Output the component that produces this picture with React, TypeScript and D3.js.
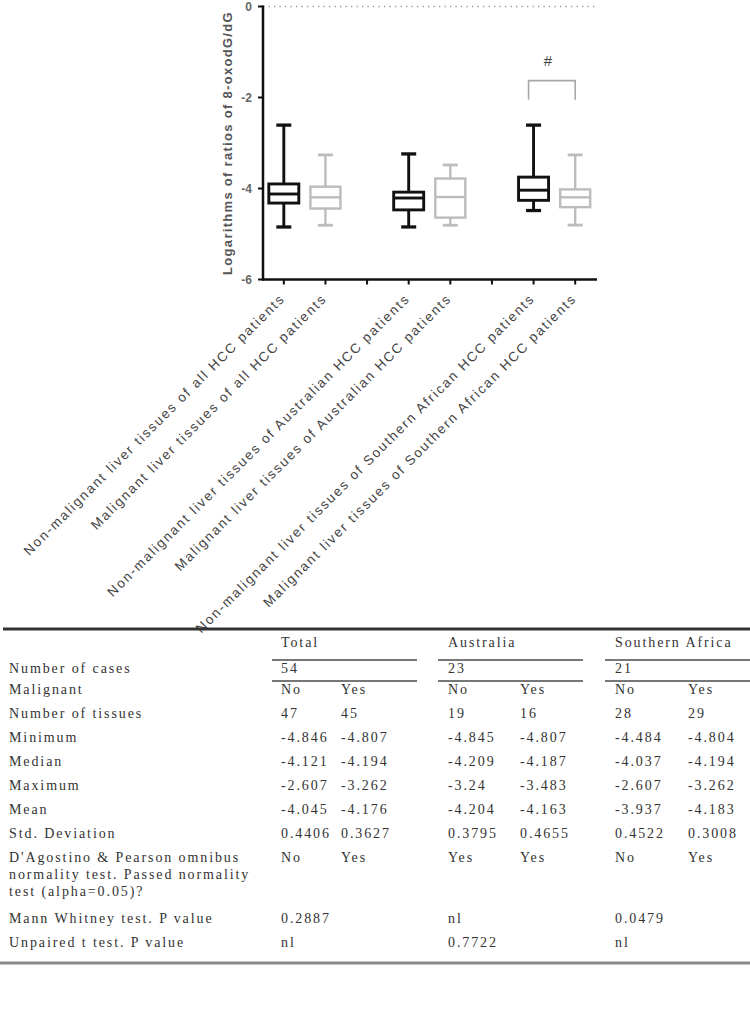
import React from 'react';
import * as d3 from 'd3';

// ---------- data ----------
const categories = [
  'Non-malignant liver tissues of all HCC patients',
  'Malignant liver tissues of all HCC patients',
  'Non-malignant liver tissues of Australian HCC patients',
  'Malignant liver tissues of Australian HCC patients',
  'Non-malignant liver tissues of Southern African HCC patients',
  'Malignant liver tissues of Southern African HCC patients',
];
const malignantFlag = [false, true, false, true, false, true];
const minVals = [-4.846, -4.807, -4.845, -4.807, -4.484, -4.804];
const q1Vals = [-4.32, -4.44, -4.47, -4.64, -4.26, -4.41];
const medianVals = [-4.121, -4.194, -4.209, -4.187, -4.037, -4.194];
const q3Vals = [-3.90, -3.96, -4.08, -3.78, -3.75, -4.02];
const maxVals = [-2.607, -3.262, -3.24, -3.483, -2.607, -3.262];
const yTicks = [0, -2, -4, -6];
const yLabel = 'Logarithms of ratios of 8-oxodG/dG';
// significance bracket between category indices 4 and 5
const sigPair = [4, 5];
const sigLabel = '#';
const sigBase = -2.05;
const sigTop = -1.63;

// table
const groupHeaders = ['Total', 'Australia', 'Southern Africa'];
const casesRow = ['54', '23', '21'];
const malignantRow = ['No', 'Yes', 'No', 'Yes', 'No', 'Yes'];
const statLabels = ['Number of tissues', 'Minimum', 'Median', 'Maximum', 'Mean', 'Std. Deviation'];
const statRows = [
  ['47', '45', '19', '16', '28', '29'],
  ['-4.846', '-4.807', '-4.845', '-4.807', '-4.484', '-4.804'],
  ['-4.121', '-4.194', '-4.209', '-4.187', '-4.037', '-4.194'],
  ['-2.607', '-3.262', '-3.24', '-3.483', '-2.607', '-3.262'],
  ['-4.045', '-4.176', '-4.204', '-4.163', '-3.937', '-4.183'],
  ['0.4406', '0.3627', '0.3795', '0.4655', '0.4522', '0.3008'],
];
const normalityLabel = ["D'Agostino & Pearson omnibus", 'normality test. Passed normality', 'test (alpha=0.05)?'];
const normalityRow = ['No', 'Yes', 'Yes', 'Yes', 'No', 'Yes'];
const pLabels = ['Mann Whitney test. P value', 'Unpaired t test. P value'];
const pRows = [
  ['0.2887', 'nl', '0.0479'],
  ['nl', '0.7722', 'nl'],
];

// ---------- layout ----------
const W = 750;
const H = 1009;
const slotKeys = ['c0', 'c1', 'g1', 'c2', 'c3', 'g2', 'c4', 'c5'];
const catKeys = ['c0', 'c1', 'c2', 'c3', 'c4', 'c5'];

export default function App() {
  const x = d3.scalePoint<string>().domain(slotKeys).range([263, 596]).padding(0.5);
  const y = d3.scaleLinear().domain([-6, 0]).range([279.5, 6.5]);
  const axisX0 = 263;
  const axisX1 = 597;
  const axisY = y(-6);

  const black = '#111';
  const gray = '#bcbcbc';
  const sans = 'Arial, "Liberation Sans", sans-serif';
  const serif = '"Liberation Serif", "Times New Roman", serif';
  const tcol = '#333';

  const boxW = 30;
  const capW = 15;

  // table columns
  const colX = [281, 341, 448, 520, 615, 688];
  const groupX = [281, 448, 615];
  const ruleSpans = [[272, 417], [438, 583], [605, 750]];
  const labelX = 9;
  const fs = 14;
  const ls = 1.9;

  const rowStart = 718;
  const rowStep = 24;

  return (
    <div style={{ position: 'absolute', left: 0, top: 0 }}>
      <svg width={W} height={H} style={{ display: 'block', background: '#fff' }}>
        {/* dotted zero line */}
        <line x1={axisX0} x2={axisX1} y1={y(0)} y2={y(0)} stroke="#999" strokeWidth={1.3} strokeDasharray="1.3,4.2" />

        {/* y axis */}
        <line x1={axisX0} x2={axisX0} y1={y(0) - 1} y2={axisY + 1} stroke={black} strokeWidth={2.5} />
        {yTicks.map((t) => (
          <g key={t}>
            <line x1={axisX0 - 5} x2={axisX0} y1={y(t)} y2={y(t)} stroke={black} strokeWidth={2} />
            <text x={axisX0 - 11} y={y(t)} dy="0.35em" textAnchor="end" fontFamily={sans} fontWeight="bold" fontSize={12} fill="#666">
              {t}
            </text>
          </g>
        ))}
        <text
          transform={`translate(232, ${(y(0) + axisY) / 2}) rotate(-90)`}
          textAnchor="middle"
          fontFamily={sans}
          fontWeight="bold"
          fontSize={13}
          letterSpacing={1.3}
          fill="#555"
        >
          {yLabel}
        </text>

        {/* x axis */}
        <line x1={axisX0 - 1} x2={axisX1} y1={axisY} y2={axisY} stroke={black} strokeWidth={2.5} />
        {slotKeys.map((k) => (
          <line key={k} x1={x(k)} x2={x(k)} y1={axisY} y2={axisY + 5} stroke={black} strokeWidth={2} />
        ))}
        {catKeys.map((k, i) => (
          <text
            key={k}
            transform={`translate(${(x(k) as number) + 2}, ${axisY + 20}) rotate(-45)`}
            textAnchor="end"
            fontFamily={sans}
            fontSize={13.5}
            letterSpacing={1.8}
            fill="#444"
          >
            {categories[i]}
          </text>
        ))}

        {/* boxes */}
        {catKeys.map((k, i) => {
          const cx = x(k) as number;
          const col = malignantFlag[i] ? gray : black;
          const sw = malignantFlag[i] ? 2.4 : 2.9;
          return (
            <g key={k} stroke={col} fill="none">
              <line x1={cx} x2={cx} y1={y(maxVals[i])} y2={y(q3Vals[i])} strokeWidth={sw} />
              <line x1={cx} x2={cx} y1={y(q1Vals[i])} y2={y(minVals[i])} strokeWidth={sw} />
              <line x1={cx - capW / 2} x2={cx + capW / 2} y1={y(maxVals[i])} y2={y(maxVals[i])} strokeWidth={sw + 0.4} />
              <line x1={cx - capW / 2} x2={cx + capW / 2} y1={y(minVals[i])} y2={y(minVals[i])} strokeWidth={sw + 0.4} />
              <rect x={cx - boxW / 2} y={y(q3Vals[i])} width={boxW} height={y(q1Vals[i]) - y(q3Vals[i])} strokeWidth={sw} fill="#fff" />
              <line x1={cx - boxW / 2} x2={cx + boxW / 2} y1={y(medianVals[i])} y2={y(medianVals[i])} strokeWidth={sw} />
            </g>
          );
        })}

        {/* significance bracket */}
        {(() => {
          const xa = (x(catKeys[sigPair[0]]) as number) - 5;
          const xb = x(catKeys[sigPair[1]]) as number;
          return (
            <g>
              <path d={`M${xa},${y(sigBase)} V${y(sigTop)} H${xb} V${y(sigBase)}`} fill="none" stroke="#a8a8a8" strokeWidth={1.6} />
              <text x={(xa + xb) / 2 - 4} y={y(sigTop) - 15} textAnchor="middle" fontFamily={sans} fontSize={15} fill="#444">
                {sigLabel}
              </text>
            </g>
          );
        })()}

        {/* ---------- table ---------- */}
        <line x1={3} x2={W} y1={629} y2={629} stroke="#333" strokeWidth={3} />
        <g fontFamily={serif} fontSize={fs} letterSpacing={ls} fill={tcol}>
          {groupHeaders.map((g, i) => (
            <text key={g} x={groupX[i]} y={647}>{g}</text>
          ))}
          {ruleSpans.map((s, i) => (
            <line key={'r1' + i} x1={s[0]} x2={s[1]} y1={660} y2={660} stroke="#777" strokeWidth={2} />
          ))}
          <text x={labelX} y={673}>Number of cases</text>
          {casesRow.map((c, i) => (
            <text key={'c' + i} x={groupX[i]} y={673}>{c}</text>
          ))}
          {ruleSpans.map((s, i) => (
            <line key={'r2' + i} x1={s[0]} x2={s[1]} y1={681} y2={681} stroke="#777" strokeWidth={2} />
          ))}
          <text x={labelX} y={694}>Malignant</text>
          {malignantRow.map((c, i) => (
            <text key={'m' + i} x={colX[i]} y={694}>{c}</text>
          ))}
          {statLabels.map((lab, r) => (
            <g key={lab}>
              <text x={labelX} y={rowStart + r * rowStep}>{lab}</text>
              {statRows[r].map((v, i) => (
                <text key={i} x={colX[i]} y={rowStart + r * rowStep}>{v}</text>
              ))}
            </g>
          ))}
          {normalityLabel.map((l, j) => (
            <text key={l} x={labelX} y={862 + j * 17}>{l}</text>
          ))}
          {normalityRow.map((v, i) => (
            <text key={'n' + i} x={colX[i]} y={862}>{v}</text>
          ))}
          {pLabels.map((lab, r) => (
            <g key={lab}>
              <text x={labelX} y={923 + r * rowStep}>{lab}</text>
              {pRows[r].map((v, i) => (
                <text key={i} x={groupX[i]} y={923 + r * rowStep}>{v}</text>
              ))}
            </g>
          ))}
        </g>
        <line x1={0} x2={W} y1={963} y2={963} stroke="#888" strokeWidth={3} />
      </svg>
    </div>
  );
}
